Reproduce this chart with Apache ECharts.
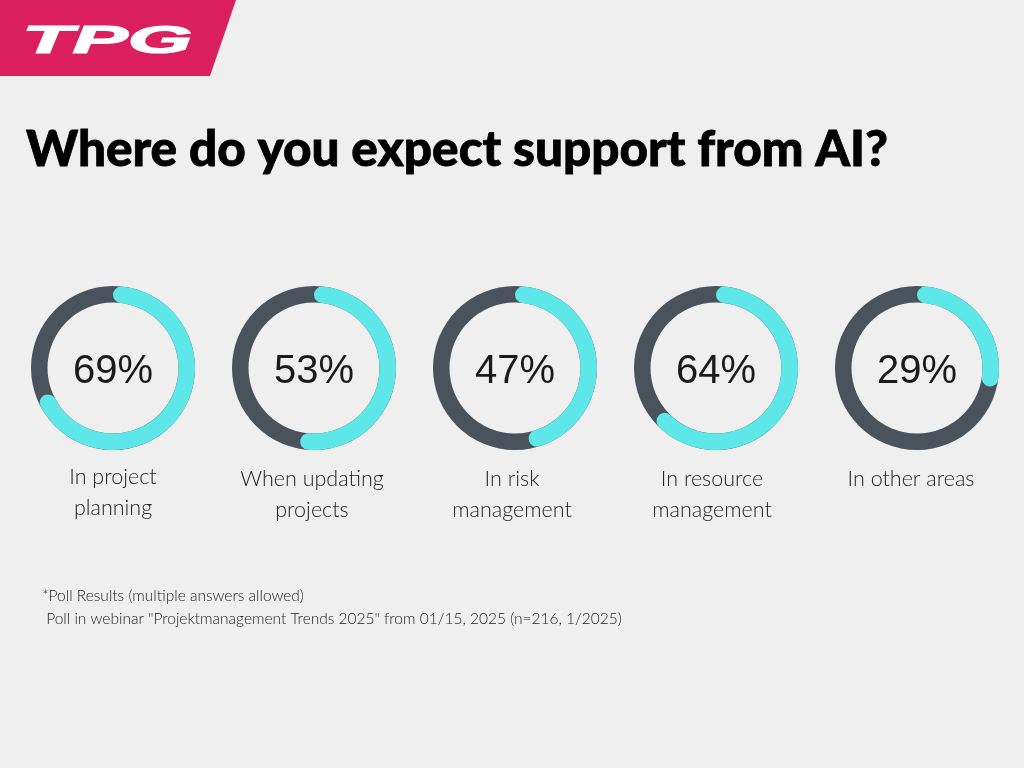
<!DOCTYPE html>
<html><head><meta charset="utf-8">
<style>html,body{margin:0;padding:0;background:#efefef}#c{width:1024px;height:768px}</style>
<script src="https://cdn.jsdelivr.net/npm/echarts@6/dist/echarts.min.js"></script>
</head><body><div id="c"></div>
<script>
const categories = ['In project\nplanning','When updating\nprojects','In risk\nmanagement','In resource\nmanagement','In other areas'];
const values = [69,53,47,64,29];
const titleText = 'Where do you expect support from AI?';
const logoText = 'TPG';
const noteLines = ['*Poll Results (multiple answers allowed)',' Poll in webinar "Projektmanagement Trends 2025" from 01/15, 2025 (n=216, 1/2025)'];

const centersX = [113,314,515,716,917];
const labelX = [113,312,512,712,911];
const labelY = [462,464,464,464,464];
const centerY = 368;
const W = 1024, H = 768;

const chart = echarts.init(document.getElementById('c'), null, {renderer:'canvas', width:W, height:H});
const rings = values.map((v,i)=>({
  type:'gauge',
  center:[centersX[i],centerY],
  radius:82,
  startAngle:90,endAngle:-270,min:0,max:100,
  pointer:{show:false},
  axisTick:{show:false},splitLine:{show:false},axisLabel:{show:false},
  axisLine:{roundCap:false,lineStyle:{width:16.5,color:[[1,'#4a525b']]}},
  progress:{show:false},
  title:{show:false},
  detail:{show:true,valueAnimation:false,offsetCenter:[0,4],formatter:'{value}%',
    fontFamily:'Liberation Sans',fontWeight:400,fontSize:40,color:'#1a1a1a'},
  data:[{value:v,name:categories[i]}],
  z:2
}));
const arcs = values.map((v,i)=>({
  type:'pie',
  center:[centersX[i],centerY],
  radius:[65.5,82],
  startAngle:90,clockwise:true,
  silent:true,
  label:{show:false},labelLine:{show:false},
  data:[
    {value:v,name:categories[i],itemStyle:{color:'#5ee7e8',borderRadius:8.25}},
    {value:100-v,name:'rest',itemStyle:{color:'transparent'}}
  ],
  z:3
}));
chart.setOption({
  backgroundColor:'#efefef',
  animation:false,
  title: categories.map((c,i)=>({
    text:c, left:labelX[i], top:labelY[i], textAlign:'center', padding:0,
    textStyle:{fontFamily:'Lato',fontWeight:300,fontSize:21.5,lineHeight:31,color:'#222'}
  })),
  graphic:[
    {type:'polygon',shape:{points:[[0,0],[236,0],[210,76],[0,76]]},style:{fill:'#db1f5e'}},
    {type:'text',x:22,y:23.5,scaleX:2.18,scaleY:1,style:{text:logoText,fill:'#fff',stroke:'#fff',lineWidth:1.2,font:'italic 900 38px "Liberation Sans"',textVerticalAlign:'top'}},
    {type:'text',x:26,y:125,style:{text:titleText,fill:'#000',stroke:'#000',lineWidth:0.8,font:'900 49.5px Lato',letterSpacing:0.75}},
    {type:'text',x:42,y:587.5,style:{text:noteLines[0],fill:'#222',font:'300 15.5px Lato'}},
    {type:'text',x:42,y:611,style:{text:noteLines[1],fill:'#222',font:'300 15.5px Lato'}}
  ],
  series: rings.concat(arcs)
});
</script></body></html>
